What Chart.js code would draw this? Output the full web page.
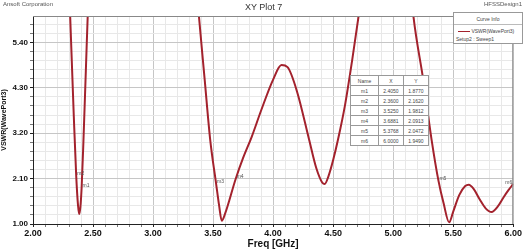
<!DOCTYPE html>
<html>
<head>
<meta charset="utf-8">
<script src="https://cdn.jsdelivr.net/npm/chart.js@4.4.1/dist/chart.umd.min.js"></script>
<style>
  html,body{margin:0;padding:0;background:#fff;}
  #wrap{position:relative;width:523px;height:250px;font-family:'Liberation Sans',Arial,sans-serif;}
  #wrap canvas{position:absolute;left:0;top:0;}
  .hdr{position:absolute;color:#555;font-size:6px;white-space:nowrap;}
  #ttl{position:absolute;left:245px;top:2px;font-size:9px;color:#333;white-space:nowrap;}
  #curveInfo{position:absolute;left:453px;top:12px;width:68px;height:30px;background:#fff;border:1px solid #999;font-size:5px;color:#444;}
  #curveInfo .r{position:absolute;left:0;right:0;white-space:nowrap;}
  #mk{position:absolute;left:350px;top:75px;border-collapse:collapse;background:#fff;font-size:5px;color:#444;}
  #mk td{border:1px solid #999;height:9px;padding:0;text-align:center;}
</style>
</head>
<body>
<div id="wrap">
  <canvas id="xy"></canvas>
  <div class="hdr" style="left:3px;top:1px;">Ansoft Corporation</div>
  <div class="hdr" style="left:484px;top:1px;">HFSSDesign1</div>
  <div id="ttl">XY Plot 7</div>
  <div id="curveInfo">
    <div class="r" style="top:3px;text-align:center;">Curve Info</div>
    <div style="position:absolute;left:0;right:0;top:11px;border-top:1px solid #bbb;"></div>
    <div class="r" style="top:15px;left:4px;"><span style="display:inline-block;width:12px;border-top:1px solid #a3222d;vertical-align:middle;"></span> VSWR(WavePort3)</div>
    <div class="r" style="top:23px;left:2px;">Setup2 : Sweep1</div>
  </div>
  <table id="mk"></table>
</div>
<script>
/* curve: VSWR(WavePort3), Setup2 : Sweep1 */
const freq = [2.00, 2.10, 2.20, 2.28, 2.31, 2.34, 2.36, 2.375, 2.385, 2.395, 2.405, 2.42, 2.44, 2.46, 2.50, 2.70,
  3.00, 3.20, 3.30, 3.38, 3.43, 3.476, 3.525, 3.55, 3.572, 3.60, 3.688, 3.75, 3.82, 3.90, 4.00, 4.07, 4.12, 4.20,
  4.30, 4.36, 4.41, 4.43, 4.46, 4.50, 4.54, 4.60, 4.66, 4.71, 4.80, 4.95, 5.05, 5.12, 5.17, 5.25, 5.32, 5.377,
  5.42, 5.466, 5.50, 5.55, 5.60, 5.63, 5.67, 5.72, 5.77, 5.82, 5.87, 5.92, 5.96, 6.00];
const vswr = [25, 20, 14, 8.5, 6.0, 3.6, 2.16, 1.45, 1.24, 1.42, 1.88, 3.0, 4.7, 6.4, 9, 16,
  20, 14, 9, 6.1, 4.5, 3.04, 1.98, 1.45, 1.08, 1.25, 2.09, 2.6, 3.1, 3.75, 4.5, 4.85, 4.8, 4.2,
  3.04, 2.35, 2.0, 1.97, 2.15, 2.55, 3.04, 3.9, 5.0, 6.0, 8, 11, 10, 7.5, 6.0, 4.5, 3.04, 2.05,
  1.5, 1.04, 1.3, 1.7, 1.92, 1.95, 1.85, 1.6, 1.38, 1.29, 1.42, 1.65, 1.82, 1.97];

/* markers */
const markerNames = ["m1","m2","m3","m4","m5","m6"];
const markerX = [2.4050, 2.3600, 3.5250, 3.6881, 5.3768, 6.0000];
const markerY = [1.8770, 2.1620, 1.9812, 2.0913, 2.0472, 1.9490];

/* axes */
const xMajor = [2.00, 2.50, 3.00, 3.50, 4.00, 4.50, 5.00, 5.50, 6.00];
const yMajor = [1.00, 2.10, 3.20, 4.30, 5.40];
const yMax = 6.04;
const xSub = 5, ySub = 5;

const RED = "#a3222d";

/* marker table */
(function(){
  const t = document.getElementById('mk');
  let h = '<tr><td style="width:27px">Name</td><td style="width:24px">X</td><td style="width:24px">Y</td></tr>';
  markerNames.forEach((n,i)=>{
    h += `<tr><td>${n}</td><td>${markerX[i].toFixed(4)}</td><td>${markerY[i].toFixed(4)}</td></tr>`;
  });
  t.innerHTML = h;
})();

function buildTicks(major, sub, top){
  const out = [];
  const step = (major[1]-major[0]) / sub;
  for(let k=0; ; k++){
    const v = +(major[0] + k*step).toFixed(4);
    if(v > top + 1e-6) break;
    out.push({ value: v, major: k % sub === 0 });
  }
  return out;
}

const gridColor = ctx => ctx.tick && ctx.tick.major ? "#c6c6c6" : "#e8e8e8";
const tickColor = ctx => ctx.tick && ctx.tick.major ? "#222" : "#777";

const frame = {
  id:'frame',
  afterDraw(chart){
    const {ctx, chartArea:a, scales} = chart;
    ctx.save();
    ctx.strokeStyle = "#888";
    ctx.lineWidth = 1;
    ctx.beginPath();
    ctx.moveTo(a.left, a.top+0.5); ctx.lineTo(a.right-0.5, a.top+0.5); ctx.lineTo(a.right-0.5, a.bottom);
    ctx.stroke();
    ctx.fillStyle = "#555";
    ctx.font = "5px 'Liberation Sans'";
    markerNames.forEach((n,i)=>{
      const px = scales.x.getPixelForValue(markerX[i]);
      const py = scales.y.getPixelForValue(markerY[i]);
      ctx.fillText(n, Math.min(px+1, a.right-8), py-1);
    });
    ctx.restore();
  }
};

new Chart(document.getElementById('xy'), {
  type:'line',
  data:{
    datasets:[{
      data: freq.map((f,i)=>({x:f, y:vswr[i]})),
      borderColor: RED,
      borderWidth: 2,
      pointRadius: 0,
      cubicInterpolationMode: 'monotone',
      clip: 0
    }]
  },
  options:{
    responsive:true,
    maintainAspectRatio:false,
    animation:false,
    layout:{ padding:{ top:16, right:4, left:0, bottom:0 } },
    plugins:{ legend:{ display:false }, tooltip:{ enabled:false } },
    scales:{
      x:{
        type:'linear', min:xMajor[0], max:xMajor[xMajor.length-1],
        afterBuildTicks: s => { s.ticks = buildTicks(xMajor, xSub, xMajor[xMajor.length-1]); },
        afterFit: s => { s.height = 26; },
        grid:{ color:gridColor, tickColor:tickColor, tickLength:3 },
        border:{ color:"#222" },
        ticks:{ autoSkip:false, maxRotation:0, padding:1, color:"#111",
          font:{ family:"'Liberation Sans'", size:9, weight:'bold' },
          callback:(v,i,t)=> t[i].major ? Number(v).toFixed(2) : '' },
        title:{ display:true, text:'Freq [GHz]', color:"#111", padding:{top:0,bottom:0},
          font:{ family:"'Liberation Sans'", size:10, weight:'bold' } }
      },
      y:{
        type:'linear', min:yMajor[0], max:yMax,
        afterBuildTicks: s => { s.ticks = buildTicks(yMajor, ySub, yMax); },
        afterFit: s => { s.width = 33; },
        grid:{ color:gridColor, tickColor:tickColor, tickLength:3 },
        border:{ color:"#222" },
        ticks:{ autoSkip:false, padding:2, color:"#111",
          font:{ family:"'Liberation Sans'", size:8, weight:'bold' },
          callback:(v,i,t)=> t[i].major ? Number(v).toFixed(2) : '' },
        title:{ display:true, text:'VSWR(WavePort3)', color:"#111", padding:{top:0,bottom:0},
          font:{ family:"'Liberation Sans'", size:7, weight:'bold' } }
      }
    }
  },
  plugins:[frame]
});
</script>
</body>
</html>
